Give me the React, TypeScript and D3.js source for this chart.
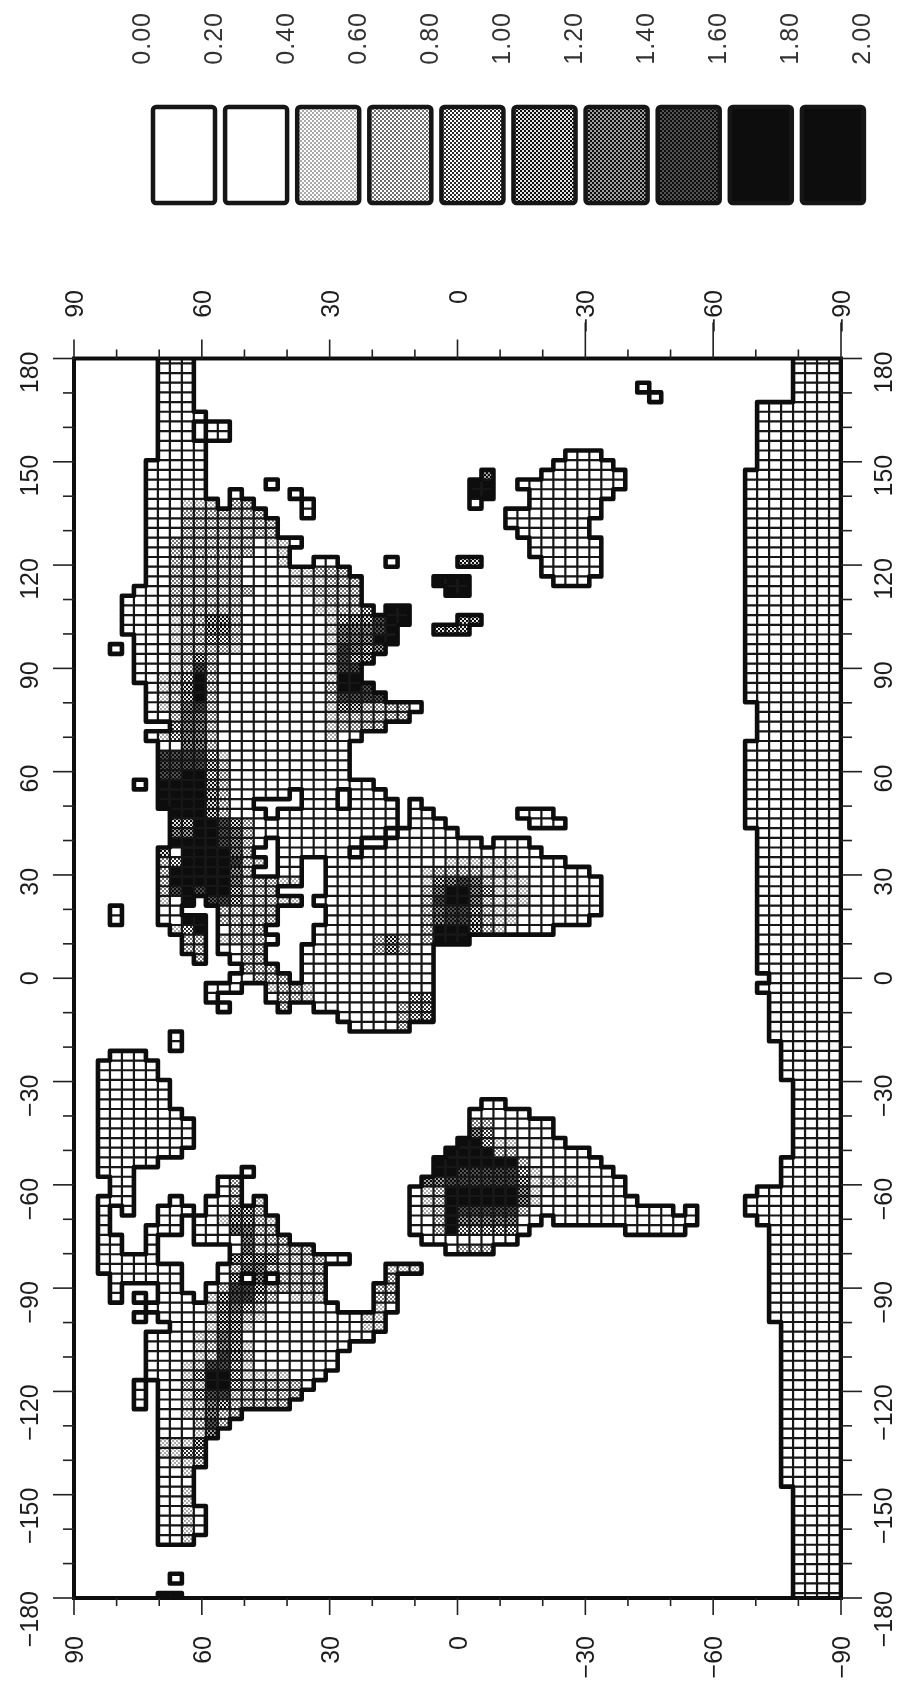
import React from 'react';
import * as d3 from 'd3';

// grid is T42: 128 longitude rows (from 180 going down) and 64 latitude columns (from 90 going right)
// every entry reads "lonRow(s): latCol-latCol latCol ..."
const eurasiaAfricaRows = [
  '0-5: 7-9', '6: 7-10', '7-8: 7-9 11-12', '9-10: 7-10', '11-12: 6-10', '13: 6-10 16', '14: 6-10 13 18',
  '15: 6-11 13-14 19', '16: 6-15 19', '17-18: 6-16', '19: 6-18', '20: 6-17', '21: 6-17 20-21 26 32-33',
  '22: 6-22', '23: 6-23 30-32', '24: 5-23 31-32', '25: 4-23', '26: 4-24 26-27', '27: 4-27 32-33',
  '28: 4-26 30-32', '29: 5-26', '30: 3 5-25', '31: 5-24', '32-33: 5-23', '34: 6-24', '35: 6-25', '36: 6-28',
  '37: 6-27', '38: 8-25', '39: 6-23', '40-43: 7-22', '44: 5 7-24', '45: 7-17 19-21 23-25',
  '46: 7-14 19-21 23-26 28', '47: 8-15 17-26 28-29', '48: 8-26 28-30', '49: 8-25 27-31',
  '50: 8-15 17-23 26-33 35-37', '51: 7-14 17-22 24-38', '52: 7-15 17-18 21-40', '53: 7-14 17-18 21-42',
  '54: 7-18 21-43', '55: 7-16 21-43', '56: 7-9 11-18 20-43', '57: 3 7-8 12-16 21-43', '58: 3 7-10 12-16 21-42',
  '59: 8-10 12-15 20-39', '60: 9-10 12-16 20-32', '61: 9-10 12-15 19-29', '62: 10 13-15 19-29', '63: 14-16 19-29',
  '64: 13-17 19-29', '65: 11-13 16-29', '66: 11 16-29', '67: 12 17 20-29', '68: 22-29', '69: 23-27',
];

const oceaniaRows = [
  '3: 47', '4: 48', '10: 41-43', '11: 40-44', '12: 34 39-45', '13: 33-34 37-45', '14: 33-34 38-44',
  '15: 33 38-43', '16: 36-43', '17: 36-42', '18: 37-42', '19-20: 38-43', '21-22: 39-43', '23: 40-42',
  '47: 37-39', '48: 38-40',
];

const americaRows = [
  '70-71: 8', '72: 3-5', '73-74: 2-6', '75-77: 2-7', '78: 2-8', '79-81: 2-9', '82: 2-8', '83: 2-6',
  '84: 2-4 14', '85-86: 3-4 12-13', '87: 2-4 8 11-13 15', '88: 2 4 7-9 11-15', '89: 2 7-8 10-16',
  '90: 2 6-8 10-16', '91: 2-3 6 10-17', '92: 2-3 6 13-19', '93: 2-6 13-22', '94: 2-8 12-20 26-28',
  '95: 3-8 12-13 15 17-20 26', '96: 3 7-8 11-20 25-26', '97: 3 5 7-9 11-20 25-26', '98: 6-21 25-26',
  '99: 5 7-25', '100: 8-25', '101: 6-24', '102: 6-22', '103-104: 6-21', '105: 6-20', '106: 5 7-19',
  '107: 5 7-18', '108: 5 7-17', '109: 7-13', '110: 7-12', '111: 7-11', '112-114: 7-10', '115-118: 7-9',
  '119-121: 7-10', '122: 7-9', '126: 8', '128: 7-8',
  '77: 34-35', '78: 33-37', '79-80: 33-39', '81: 32-40', '82: 31-42', '83: 30-43', '84: 30-44', '85: 29-45',
  '86: 28-45', '87: 28-46', '88: 28-49 51', '89: 28-38 40-51', '90: 28-37 46-50', '91: 29-36', '92: 31-34',
];

const antarcticaRows = [
  '0-4: 60-63', '5-11: 57-63', '12-35: 56-63', '36-39: 57-63', '40-48: 56-63', '49-63: 57-63', '64: 58-63',
  '65: 57-63', '66-70: 58-63', '71-74: 59-63', '75-82: 60-63', '83-85: 59-63', '86: 57-63', '87-88: 56-63',
  '89: 57-63', '90-99: 58-63', '100-116: 59-63', '117-128: 60-63',
];

// shade classes: "lonRow: latCol-latCol:class", 0 and 1 stay white
const asiaShade = [
  '12: 34:6', '13-14: 33-34:9', '15: 9-11:2 13-14:3', '16: 9-15:3', '17-18: 9-16:3', '19: 8-14:3 16-17:2',
  '20: 8-14:3 17:2', '21: 8-13:3 17:2 32-33:5', '22: 8-13:3 18-19:2 20-22:3', '23: 8-13:3 18-20:2 21-23:3 30-32:9',
  '24: 8-14:3 19:2 20-23:3 31-32:9', '25: 8-13:3 20:2 21-23:3', '26: 8-13:3 20-21:2 22-23:3 24:4 26-27:9',
  '27: 8:2 9-10:3 11-12:5 13:3 21:2 22:4 23-24:5 25:7 26-27:9 32-33:5', '28: 8:2 9-10:3 11-12:5 13:3 21:2 22-24:6 25:7 26:9 30-32:5',
  '29: 8:2 9-10:3 11-12:4 13:3 21:2 22-24:6 25-26:8', '30: 8:2 9-12:3 13:2 21:2 22:7 23:6 24:5 25:6',
  '31: 8:2 9:3 10:5 11:3 21:3 22:7 23-24:5', '32: 8:2 9:3 10:7 11:3 21:2 22-23:7', '33: 7:2 8:3 9:4 10:8 11:3 21:2 22-23:8',
  '34: 7:2 8:3 9:5 10:8 11:3 21:3 22-23:8 24:7', '35: 7:2 8:3 9:5 10:8 11:3 21:3 22-25:7',
  '36: 7:2 8:3 9:6 10:7 11:3 21:2 22-23:5 24-27:3', '37: 8:3 9:6 10:6 11:3 21:2 22-27:3', '38: 8:4 9-10:6 11:3 21:2 22-25:3',
  '39: 7:2 8:4 9-10:6 11:3 21:2', '40: 9-10:6 11:3', '41: 7-10:7 11:4 12:2', '42: 7-10:7 11:5 12:3', '43: 7-8:7 9-10:8 11:4 12:3',
  '44: 7-10:8 11:5 12:3', '45-46: 7-10:9 11:5 12:3', '47: 8-10:9 11:5 12:3', '48: 8-9:5 10-11:9 12:7 13:5 14:3',
  '49: 8-9:6 10-11:9 12:7 13:6 14:3', '50: 8-11:9 12:7 13:6 14:3', '51: 7:5 9-12:9 13:6 14:3', '52: 7:3 8:4 9-12:9 13:7 14:3 15:2',
  '53: 7:3 8:8 9-12:9 13:6 14:3', '54: 7:3 8-12:8 13:6 14-16:3 17-18:2', '55: 7:3 8:7 9:8 10:7 11-12:8 13:5 14-16:3',
  '56: 7:2 9:8 11-12:7 13:5 14-16:3 17-18:2', '57: 12-16:3', '58: 9-10:9 12-16:3', '59: 8:2 9:4 10:8 13-15:3',
  '60: 9-10:3 12:2 13-15:3 25:3 26:5 27:3', '61: 9-10:3 14-15:3 25:3 26:5 27:3', '62: 10:3 14-15:3', '63: 14-16:3', '64: 15-17:3',
  '65: 16:2 17-18:3 19:2', '66: 17-18:3 19:2 28-29:4', '67: 17:3 27:3 28-29:4', '68: 27:3 28-29:4', '69: 27:3',
];

const africaShade = [
  '52: 31-36:2', '53: 29:2 30-33:3 34-36:2', '54: 29:2 30:5 31:6 32:7 33:6 34:3 35-37:2', '55: 29:3 30:6 31-32:8 33:6 34:4 35-37:2',
  '56: 29:3 30:7 31-32:8 33:6 34:3 35-37:2', '57: 29:3 30:6 31-32:7 33:5 34:3 35-36:2', '58: 29:3 30:6 31-32:7 33:5 34:3 35-36:2',
  '59: 29:3 30-32:9 33:5 34:3 35:2', '60: 29:3 30-32:9',
];

const americaShade = [
  '79: 33-34:3', '80: 33:6 34:4', '81: 32-33:9 34:4 35-36:2', '82: 31-34:9 35-36:3', '83: 30-36:9 37:3',
  '84: 30-31:8 32-36:7 37:4 38:2', '85: 29-30:6 31-36:7 37:5 38-41:2', '86: 29:2 30:3 31-36:8 37:6 38:2',
  '87: 29:2 30:3 31-36:8 37:6 38:2', '88: 29:2 30:3 31:8 32-36:7 37:3', '89: 30:3 31:8 32-36:6', '90: 30:3 31:8 32-36:4', '92: 32-34:3',
  '85-86: 13:3', '87: 13:3 15:2', '88: 13-14:5 15:3', '89: 12:2 13-14:5 15:3 16:2', '90: 13-14:6 15-16:3', '91: 14:6 15-17:3',
  '92: 14:6 15-19:3', '93: 13-14:5 15-16:5 17-20:3', '94: 13:3 14-15:6 16-20:3 26-28:2', '95: 13:5 15:6 17-20:3 26:3',
  '96: 12:3 13-14:7 15:5 16-20:3 25-26:3', '97: 11:2 12:5 13-14:7 15:4 16:3 18-20:2 25-26:3', '98: 11:2 12:5 13:6 14:4 15:3 25:2',
  '99: 11:2 12-13:5 14:3 15:2 24-25:2', '100: 11:2 12-13:5 14:2 24-25:2', '101: 10:2 11:3 12:6 13:5', '102: 10:2 11:3 12:6 13:5 14:2',
  '103: 10:2 11:3 12:7 13:5 14:3', '104: 9:2 10:3 11-12:7 13:4 14:2', '105: 9:2 10:4 11-12:8 13:4 14-17:2',
  '106: 9-10:3 11-12:8 13:4 14-18:3', '107: 9:2 10:4 11-12:7 13-18:3', '108: 9:2 10:3 11:6 12:5 13-17:3', '109: 9:2 10:3 11:6 12-13:3',
  '110: 10:3 11:7 12:3', '111: 10:2 11:6', '112: 7-9:2 10:5', '113: 7-8:2 9-10:4', '114: 8-9:2 10:3', '115: 9:2',
  '117-120: 9:2', '121-122: 9:2', '128: 7-8:9',
];

const legendLabels = ['0.00', '0.20', '0.40', '0.60', '0.80', '1.00', '1.20', '1.40', '1.60', '1.80', '2.00'];
const legendClasses = [0, 1, 2, 3, 4, 5, 6, 7, 8, 9];
const classCover = [0, 0, 0.18, 0.3, 0.45, 0.56, 0.7, 0.86, 1, 1];

const lonLabels = [180, 150, 120, 90, 60, 30, 0, -30, -60, -90, -120, -150, -180];
const latLabels = [90, 60, 30, 0, -30, -60, -90];

const parseRange = (s: string) => {
  const [a, b] = s.split('-').map(Number);
  return [a, b === undefined ? a : b];
};

function readLand(rows: string[], into: Set<string>) {
  rows.forEach((row) => {
    const [head, body] = row.split(':');
    const [j0, j1] = parseRange(head);
    for (let j = j0; j <= j1; j++) {
      body.trim().split(' ').forEach((span) => {
        const [a, b] = parseRange(span);
        for (let i = a; i <= b; i++) into.add(j + '_' + i);
      });
    }
  });
}

function readShade(rows: string[], into: Map<string, number>) {
  rows.forEach((row) => {
    const cut = row.indexOf(':');
    const [j0, j1] = parseRange(row.slice(0, cut));
    for (let j = j0; j <= j1; j++) {
      row.slice(cut + 1).trim().split(' ').forEach((part) => {
        const [span, level] = part.split(':');
        const [a, b] = parseRange(span);
        for (let i = a; i <= b; i++) into.set(j + '_' + i, +level);
      });
    }
  });
}

const land = new Set<string>();
[eurasiaAfricaRows, oceaniaRows, americaRows, antarcticaRows].forEach((r) => readLand(r, land));
const shade = new Map<string, number>();
[asiaShade, africaShade, americaShade].forEach((r) => readShade(r, shade));

const step = 2.8125;
const frame = { left: 74, right: 841, top: 358.5, bottom: 1598 };
const xLat = d3.scaleLinear().domain([90, -90]).range([frame.left, frame.right]);
const yLon = d3.scaleLinear().domain([180, -180]).range([frame.top, frame.bottom]);
const font = '"Liberation Sans", Arial, sans-serif';

const legendX = d3.scaleLinear().domain([0, 10]).range([151, 872]);
const legendTick = d3.scaleLinear().domain([0, 10]).range([141, 861]);

const cellBox = (key: string) => {
  const [j, i] = key.split('_').map(Number);
  const x0 = xLat(90 - i * step);
  const x1 = xLat(90 - (i + 1) * step);
  const y0 = yLon(180 - (j - 0.5) * step);
  const y1 = yLon(180 - (j + 0.5) * step);
  return { j, i, x0, x1, y0, y1 };
};

function linePaths() {
  const grid = d3.path();
  const coast = d3.path();
  land.forEach((key) => {
    const { j, i, x0, x1, y0, y1 } = cellBox(key);
    const side = (has: boolean, ax: number, ay: number, bx: number, by: number) => {
      const p = has ? grid : coast;
      p.moveTo(ax, ay);
      p.lineTo(bx, by);
    };
    side(land.has(j - 1 + '_' + i), x0, y0, x1, y0);
    side(land.has(j + 1 + '_' + i), x0, y1, x1, y1);
    side(land.has(j + '_' + (i - 1)), x0, y0, x0, y1);
    side(land.has(j + '_' + (i + 1)), x1, y0, x1, y1);
  });
  return { grid: grid.toString(), coast: coast.toString() };
}

const ShadePatterns = () => (
  <>
    {classCover.map((c, k) => {
      const dark = c > 0.5;
      const s = Math.sqrt(((dark ? 1 - c : c) * 16) / 2);
      const off = (2 - s) / 2;
      return (
        <pattern key={k} id={'shade' + k} width={4} height={4} patternUnits="userSpaceOnUse">
          <rect width={4} height={4} fill={dark ? '#111' : '#fff'} />
          <rect x={off} y={off} width={s} height={s} fill={dark ? '#fff' : '#111'} />
          <rect x={2 + off} y={2 + off} width={s} height={s} fill={dark ? '#fff' : '#111'} />
        </pattern>
      );
    })}
  </>
);

const RotText = ({ x, y, children, fill = '#1c1c1c', spacing = 0 }: any) => (
  <text
    transform={`translate(${x},${y}) rotate(-90)`}
    textAnchor="end"
    dy="0.36em"
    fontFamily={font}
    fontSize={25}
    letterSpacing={spacing}
    fill={fill}
  >
    {children}
  </text>
);

const signed = (v: number) => (v < 0 ? '\u2212' + Math.abs(v) : String(v));

export default function App() {
  const { grid, coast } = linePaths();
  const minorLon = d3.range(-180, 181, 10);
  const minorLat = d3.range(-90, 91, 10);
  const isMajor = (v: number) => v % 30 === 0;

  return (
    <svg width={897} height={1691} style={{ position: 'absolute', left: 0, top: 0, background: '#fff' }}>
      <defs>
        <ShadePatterns />
        <clipPath id="frameClip">
          <rect x={frame.left} y={frame.top} width={frame.right - frame.left} height={frame.bottom - frame.top} />
        </clipPath>
        <filter id="scan" x="-2%" y="-2%" width="104%" height="104%">
          <feGaussianBlur stdDeviation="0.45" />
        </filter>
      </defs>

      <g filter="url(#scan)">
        {/* legend */}
        {legendClasses.map((c, k) => (
          <rect
            key={k}
            x={legendX(k) + 2}
            y={107}
            width={62}
            height={96}
            rx={3}
            fill={c > 1 ? `url(#shade${c})` : '#fff'}
            stroke="#161616"
            strokeWidth={4.5}
          />
        ))}
        {legendLabels.map((t, k) => (
          <RotText key={t} x={legendTick(k)} y={12} fill="#333" spacing={1}>
            {t}
          </RotText>
        ))}

        {/* land cells */}
        <g clipPath="url(#frameClip)">
          {Array.from(land).map((key) => {
            const level = shade.get(key) ?? 0;
            if (level < 2) return null;
            const b = cellBox(key);
            return (
              <rect key={key} x={b.x0} y={b.y0} width={b.x1 - b.x0} height={b.y1 - b.y0} fill={`url(#shade${level})`} />
            );
          })}
          <path d={grid} fill="none" stroke="#161616" strokeWidth={2.2} />
          <path d={coast} fill="none" stroke="#111" strokeWidth={4.6} strokeLinecap="round" />
        </g>

        {/* frame and ticks */}
        <rect
          x={frame.left}
          y={frame.top}
          width={frame.right - frame.left}
          height={frame.bottom - frame.top}
          fill="none"
          stroke="#111"
          strokeWidth={4}
        />
        <g stroke="#222" strokeWidth={1.6}>
          {minorLon.map((v) => {
            const len = isMajor(v) ? 21 : 11;
            return (
              <g key={v}>
                <line x1={frame.left} x2={frame.left - len} y1={yLon(v)} y2={yLon(v)} />
                <line x1={frame.right} x2={frame.right + len} y1={yLon(v)} y2={yLon(v)} />
              </g>
            );
          })}
          {minorLat.map((v) => (
            <g key={v}>
              <line x1={xLat(v)} x2={xLat(v)} y1={frame.top} y2={frame.top - (isMajor(v) ? (v < 0 ? 36 : 19) : 9)} />
              <line x1={xLat(v)} x2={xLat(v)} y1={frame.bottom} y2={frame.bottom + (isMajor(v) ? 17 : 8)} />
            </g>
          ))}
        </g>

        {/* axis labels */}
        {lonLabels.map((v) => (
          <g key={v}>
            <RotText x={29} y={yLon(v) - 7}>{signed(v)}</RotText>
            <RotText x={883} y={yLon(v) - 7}>{signed(v)}</RotText>
          </g>
        ))}
        {latLabels.map((v) => (
          <g key={v}>
            <RotText x={xLat(v)} y={290}>{signed(v)}</RotText>
            <RotText x={xLat(v)} y={1636}>{signed(v)}</RotText>
          </g>
        ))}
      </g>
    </svg>
  );
}
